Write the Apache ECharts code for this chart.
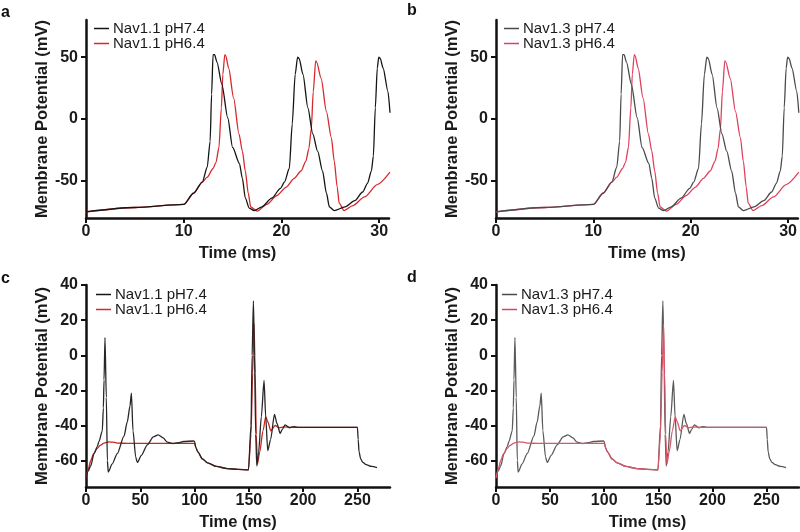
<!DOCTYPE html>
<html>
<head>
<meta charset="utf-8">
<script src="https://cdn.jsdelivr.net/npm/echarts@6/dist/echarts.min.js"></script>
<style>html,body{margin:0;padding:0;background:#fff}#c{width:800px;height:532px}</style>
</head>
<body>
<div id="c"></div>
<script>
// ---------- data (time in ms, membrane potential in mV) ----------
const nav11_pH74_a = [[0,-75],[5,-71.5],[10,-69],[11,-60],[11.9,-51],[12.4,-39],[12.7,-18],[12.85,20],[13.0,52],[13.15,52],[13.4,46],[13.9,28],[14.5,1],[15.0,-23],[15.7,-36],[16.0,-48],[16.3,-64],[16.7,-72],[17.2,-74],[18,-71],[19,-64],[19.9,-56],[20.3,-51],[20.8,-40],[21.1,-4],[21.4,36],[21.65,50],[21.8,49],[22.2,36],[22.7,9],[23.2,-12],[23.7,-26],[24.2,-42],[24.6,-60],[24.9,-71],[25.4,-74],[26.5,-71],[27.5,-66],[28.3,-59],[28.8,-52],[29.2,-42],[29.4,-30],[29.6,9],[29.8,41],[29.95,50],[30.1,49],[30.4,41],[30.9,22],[31.1,5]];
const nav11_pH64_a = [[0,-75],[5,-71.5],[10,-69],[11,-60],[11.9,-51],[12.4,-47],[13.0,-40],[13.3,-35],[13.6,-23],[13.85,9],[14.0,36],[14.2,52],[14.3,51],[14.6,41],[15.1,17],[15.65,-12],[16.0,-26],[16.3,-42],[16.6,-60],[16.85,-71],[17.5,-74.5],[18.5,-69],[19.5,-62],[20.5,-55],[21.3,-48],[22.0,-42],[22.5,-34],[22.8,-24],[23.05,-8],[23.25,22],[23.5,47],[23.6,46],[24.05,33],[24.6,6],[25.1,-15],[25.4,-34],[25.7,-55],[25.9,-68],[26.4,-74],[27.3,-70],[28.5,-63],[29.8,-53],[31.1,-43]];
const nav13_pH74_b = [[0,-75],[5,-71.5],[10,-69],[11,-60],[11.9,-51],[12.4,-39],[12.7,-18],[12.85,20],[13.0,52],[13.15,52],[13.4,46],[13.9,28],[14.5,1],[15.0,-23],[15.7,-36],[16.0,-48],[16.3,-64],[16.7,-72],[17.2,-74],[18,-71],[19,-64],[19.9,-56],[20.3,-51],[20.8,-40],[21.1,-4],[21.4,36],[21.65,50],[21.8,49],[22.2,36],[22.7,9],[23.2,-12],[23.7,-26],[24.2,-42],[24.6,-60],[24.9,-71],[25.4,-74],[26.5,-71],[27.5,-66],[28.3,-59],[28.8,-52],[29.2,-42],[29.4,-30],[29.6,9],[29.8,41],[29.95,50],[30.1,49],[30.4,41],[30.9,22],[31.1,5]];
const nav13_pH64_b = [[0,-75],[5,-71.5],[10,-69],[11,-60],[11.9,-51],[12.4,-47],[13.0,-40],[13.3,-35],[13.6,-23],[13.85,9],[14.0,36],[14.2,52],[14.3,51],[14.6,41],[15.1,17],[15.65,-12],[16.0,-26],[16.3,-42],[16.6,-60],[16.85,-71],[17.5,-74.5],[18.5,-69],[19.5,-62],[20.5,-55],[21.3,-48],[22.0,-42],[22.5,-34],[22.8,-24],[23.05,-8],[23.25,22],[23.5,47],[23.6,46],[24.05,33],[24.6,6],[25.1,-15],[25.4,-34],[25.7,-55],[25.9,-68],[26.4,-74],[27.3,-70],[28.5,-63],[29.8,-53],[31.1,-43]];
const nav11_pH74_c = [[0,-70],[2,-66],[4.3,-63],[7.4,-56],[10.4,-52],[12,-49],[15,-43],[16,-30],[16.6,-14],[17.5,10],[18.7,-24],[19.7,-60],[20.5,-66.5],[24,-62],[28.8,-56],[35,-46],[38,-38],[40.5,-29],[41.8,-21.5],[43.3,-43],[45.8,-58],[47.3,-61],[51,-57],[56.5,-51],[62,-46.5],[66.4,-45.3],[71,-47],[75,-49.5],[80,-50.3],[85,-49.8],[90,-49.1],[99,-48.8],[100,-49],[101.1,-52.4],[103,-55],[107.2,-59],[112,-61.3],[120,-63.3],[130,-64.5],[140,-65],[149.6,-65.3],[152,-40],[153,0],[154.2,31],[155.2,0],[156.3,-45],[157.3,-63],[159,-55],[161.5,-35],[164,-14.3],[165.5,-35],[167.4,-54.3],[170,-48],[173.6,-33.7],[176,-39],[178.8,-44.4],[181,-42],[183.4,-39.6],[187.4,-41.3],[191,-40.6],[195,-41],[250,-41],[250.7,-48],[251.5,-55],[253,-59],[255,-61],[258,-62.3],[263,-63.3],[268,-64]];
const nav11_pH64_c = [[0,-70],[2,-65],[4.3,-60],[7,-56],[10.4,-53],[13,-51.3],[16.6,-50],[21.2,-49.3],[25,-49.5],[28.8,-50],[40,-50.2],[60,-50.2],[80,-50.2],[100,-50.2],[101.1,-52.4],[103,-55],[107.2,-59],[112,-61.3],[120,-63.3],[130,-64.5],[140,-65],[149.6,-65.3],[152,-45],[153.5,-10],[154.8,18],[155.8,-10],[156.8,-45],[157.9,-62],[160,-55],[163,-43],[165.6,-35],[167.5,-38],[170.2,-43],[174.2,-40],[178,-41.3],[182,-40.8],[190,-41],[250,-41]];
const nav13_pH74_d = [[0,-70],[2,-66],[4.3,-63],[7.4,-56],[10.4,-52],[12,-49],[15,-43],[16,-30],[16.6,-14],[17.5,10],[18.7,-24],[19.7,-60],[20.5,-66.5],[24,-62],[28.8,-56],[35,-46],[38,-38],[40.5,-29],[41.8,-21.5],[43.3,-43],[45.8,-58],[47.3,-61],[51,-57],[56.5,-51],[62,-46.5],[66.4,-45.3],[71,-47],[75,-49.5],[80,-50.3],[85,-49.8],[90,-49.1],[99,-48.8],[100,-49],[101.1,-52.4],[103,-55],[107.2,-59],[112,-61.3],[120,-63.3],[130,-64.5],[140,-65],[149.6,-65.3],[152,-40],[153,0],[154.2,31],[155.2,0],[156.3,-45],[157.3,-63],[159,-55],[161.5,-35],[164,-14.3],[165.5,-35],[167.4,-54.3],[170,-48],[173.6,-33.7],[176,-39],[178.8,-44.4],[181,-42],[183.4,-39.6],[187.4,-41.3],[191,-40.6],[195,-41],[250,-41],[250.7,-48],[251.5,-55],[253,-59],[255,-61],[258,-62.3],[263,-63.3],[268,-64]];
const nav13_pH64_d = [[0,-70],[2,-65],[4.3,-60],[7,-56],[10.4,-53],[13,-51.3],[16.6,-50],[21.2,-49.3],[25,-49.5],[28.8,-50],[40,-50.2],[60,-50.2],[80,-50.2],[100,-50.2],[101.1,-52.4],[103,-55],[107.2,-59],[112,-61.3],[120,-63.3],[130,-64.5],[140,-65],[149.6,-65.3],[152,-45],[153.5,-10],[154.8,18],[155.8,-10],[156.8,-45],[157.9,-62],[160,-55],[163,-43],[165.6,-35],[167.5,-38],[170.2,-43],[174.2,-40],[178,-41.3],[182,-40.8],[190,-41],[250,-41]];

const seriesNames = {a: ['Nav1.1 pH7.4','Nav1.1 pH6.4'], b: ['Nav1.3 pH7.4','Nav1.3 pH6.4'], c: ['Nav1.1 pH7.4','Nav1.1 pH6.4'], d: ['Nav1.3 pH7.4','Nav1.3 pH6.4']};
const xTicksTop = [0, 10, 20, 30];
const yTicksTop = [-50, 0, 50];
const xTicksBottom = [0, 50, 100, 150, 200, 250];
const yTicksBottom = [-60, -40, -20, 0, 20, 40];
const panelLetters = ['a','b','c','d'];
const xTitle = 'Time (ms)';
const yTitle = 'Membrane Potential (mV)';

// ---------- layout / style ----------
const FONT = '"Liberation Sans", Arial, Helvetica, sans-serif';
const panels = [
  {letter:'a', grid:{left:86, top:20, width:303, height:198}, x:[0,31], y:[-80,80], xt:xTicksTop, yt:yTicksTop,
   data:[nav11_pH74_a, nav11_pH64_a], colors:['#141414','#d8282c'], redOnTop:false, legendPos:{left:94, top:21}},
  {letter:'b', grid:{left:496, top:20, width:302, height:198}, x:[0,31], y:[-80,80], xt:xTicksTop, yt:yTicksTop,
   data:[nav13_pH74_b, nav13_pH64_b], colors:['#4a4a4a','#e0405c'], redOnTop:false, legendPos:{left:504, top:21}},
  {letter:'c', grid:{left:86, top:285, width:304, height:203}, x:[0,280], y:[-75,40], xt:xTicksBottom, yt:yTicksBottom,
   data:[nav11_pH74_c, nav11_pH64_c], colors:['#262626','#c8251f'], redOnTop:false, legendPos:{left:96, top:287}},
  {letter:'d', grid:{left:496, top:285, width:303, height:203}, x:[0,280], y:[-75,40], xt:xTicksBottom, yt:yTicksBottom,
   data:[nav13_pH74_d, nav13_pH64_d], colors:['#5a5a5a','#d8566a'], redOnTop:true, legendPos:{left:502, top:287}}
];

const grid = [], xAxis = [], yAxis = [], series = [], legend = [], title = [];
const letterPos = [{left:1, top:5}, {left:407, top:3}, {left:1, top:271}, {left:407, top:270}];
panels.forEach((p, i) => {
  grid.push(p.grid);
  const axisLine = {onZero:false, lineStyle:{color:'#111', width:2.5}};
  const axisTickX = {show:true, length:5, lineStyle:{color:'#111', width:2}, customValues:p.xt};
  const axisTickY = {show:true, length:5, lineStyle:{color:'#111', width:2}, customValues:p.yt};
  xAxis.push({type:'value', gridIndex:i, min:p.x[0], max:p.x[1], axisLine, axisTick:axisTickX,
    axisLabel:{customValues:p.xt, fontFamily:FONT, fontWeight:'bold', fontSize:16, color:'#1a1a1a', margin:6},
    splitLine:{show:false}, name:xTitle, nameLocation:'middle', nameGap:27,
    nameTextStyle:{fontFamily:FONT, fontWeight:'bold', fontSize:16.5, color:'#1a1a1a'}});
  yAxis.push({type:'value', gridIndex:i, min:p.y[0], max:p.y[1], axisLine, axisTick:axisTickY,
    axisLabel:{customValues:p.yt, fontFamily:FONT, fontWeight:'bold', fontSize:16, color:'#1a1a1a', margin:8},
    splitLine:{show:false}, name:yTitle, nameLocation:'middle', nameGap:34,
    nameTextStyle:{fontFamily:FONT, fontWeight:'bold', fontSize:16.5, color:'#1a1a1a'}});
  const names = seriesNames[p.letter];
  const mk = (k) => ({type:'line', name:names[k], xAxisIndex:i, yAxisIndex:i, data:p.data[k],
    symbol:'none', smooth:0.25, smoothMonotone:'x', lineStyle:{color:p.colors[k], width:1.3},
    itemStyle:{color:p.colors[k]}, animation:false, z: 2});
  if (p.redOnTop) { series.push(mk(0)); series.push(mk(1)); }
  else { series.push(mk(1)); series.push(mk(0)); }
  legend.push({orient:'vertical', left:p.legendPos.left, top:p.legendPos.top, data:names,
    icon:'rect', itemWidth:15, itemHeight:1.5, itemGap:0, selectedMode:false, padding:0,
    textStyle:{fontFamily:FONT, fontSize:15, color:'#1a1a1a', lineHeight:13, padding:[0,0,0,-1]}});
  title.push({text:panelLetters[i], left:letterPos[i].left, top:letterPos[i].top, padding:0,
    textStyle:{fontFamily:FONT, fontWeight:'bold', fontSize:16, color:'#111'}});
});

const chart = echarts.init(document.getElementById('c'), null, {renderer:'canvas'});
chart.setOption({animation:false, backgroundColor:'#fff', title, grid, xAxis, yAxis, series, legend});
</script>
</body>
</html>
